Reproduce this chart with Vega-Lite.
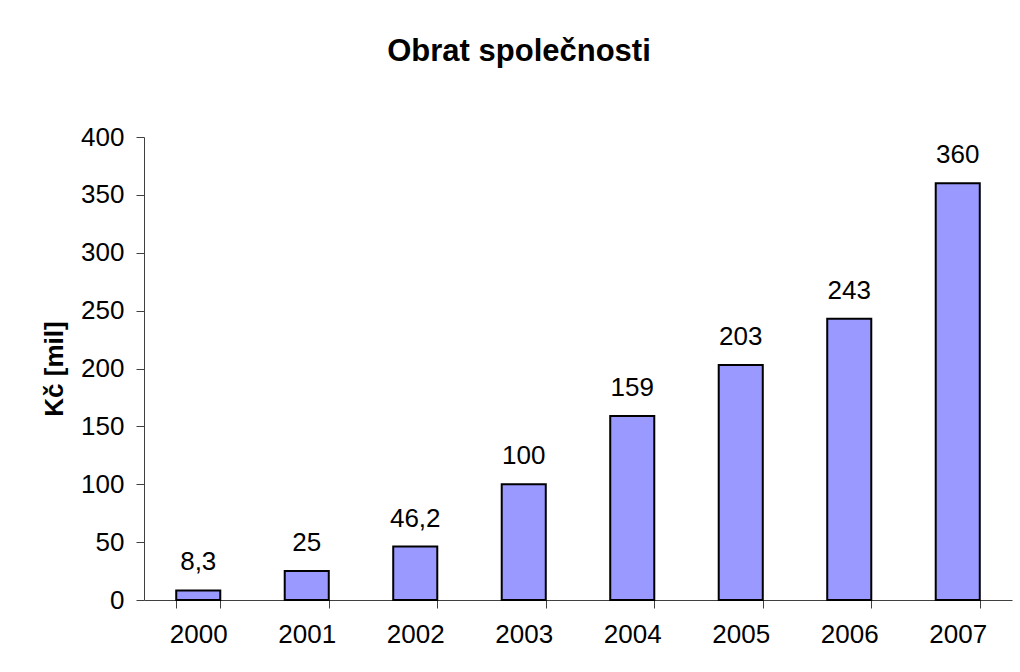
{
  "$schema": "https://vega.github.io/schema/vega-lite/v6.json",
  "autosize": "none",
  "width": 868,
  "height": 463,
  "padding": {"left": 144, "top": 137, "right": 8, "bottom": 72},
  "background": "white",
  "config": {
    "view": {"stroke": null},
    "font": "Liberation Sans",
    "locale": {"number": {"decimal": ",", "thousands": " ", "grouping": [3], "currency": ["", " Kč"]}},
    "axis": {"labelFont": "Liberation Sans", "titleFont": "Liberation Sans", "labelColor": "black", "titleColor": "black", "domainColor": "#404040", "tickColor": "#404040", "grid": false}
  },
  "title": {
    "text": "Obrat společnosti",
    "font": "Liberation Sans",
    "fontSize": 31,
    "fontWeight": "bold",
    "color": "black",
    "anchor": "middle",
    "dx": -59,
    "offset": 56
  },
  "data": {
    "values": [
      {"rok": "2000", "obrat": 8.3},
      {"rok": "2001", "obrat": 25},
      {"rok": "2002", "obrat": 46.2},
      {"rok": "2003", "obrat": 100},
      {"rok": "2004", "obrat": 159},
      {"rok": "2005", "obrat": 203},
      {"rok": "2006", "obrat": 243},
      {"rok": "2007", "obrat": 360}
    ]
  },
  "encoding": {
    "x": {
      "field": "rok",
      "type": "nominal",
      "sort": null,
      "scale": {"paddingInner": 0.594, "paddingOuter": 0.297},
      "axis": {"title": null, "labelAngle": 0, "labelFontSize": 26, "labelPadding": 13, "tickSize": 8, "tickBand": "extent", "domainWidth": 1, "tickWidth": 1}
    },
    "y": {
      "field": "obrat",
      "type": "quantitative",
      "scale": {"domain": [0, 400], "nice": false},
      "axis": {"title": "Kč [mil]", "titleFontSize": 26, "titleFontWeight": "bold", "titlePadding": 13, "values": [0, 50, 100, 150, 200, 250, 300, 350, 400], "labelFontSize": 26, "labelPadding": 12, "tickSize": 8, "domainWidth": 1, "tickWidth": 1}
    }
  },
  "layer": [
    {
      "mark": {"type": "bar", "fill": "#9999FF", "stroke": "black", "strokeWidth": 2}
    },
    {
      "mark": {"type": "text", "baseline": "alphabetic", "dy": -20, "fontSize": 26, "color": "black", "font": "Liberation Sans"},
      "encoding": {"text": {"field": "obrat", "type": "quantitative", "format": ".1~f"}}
    }
  ]
}
